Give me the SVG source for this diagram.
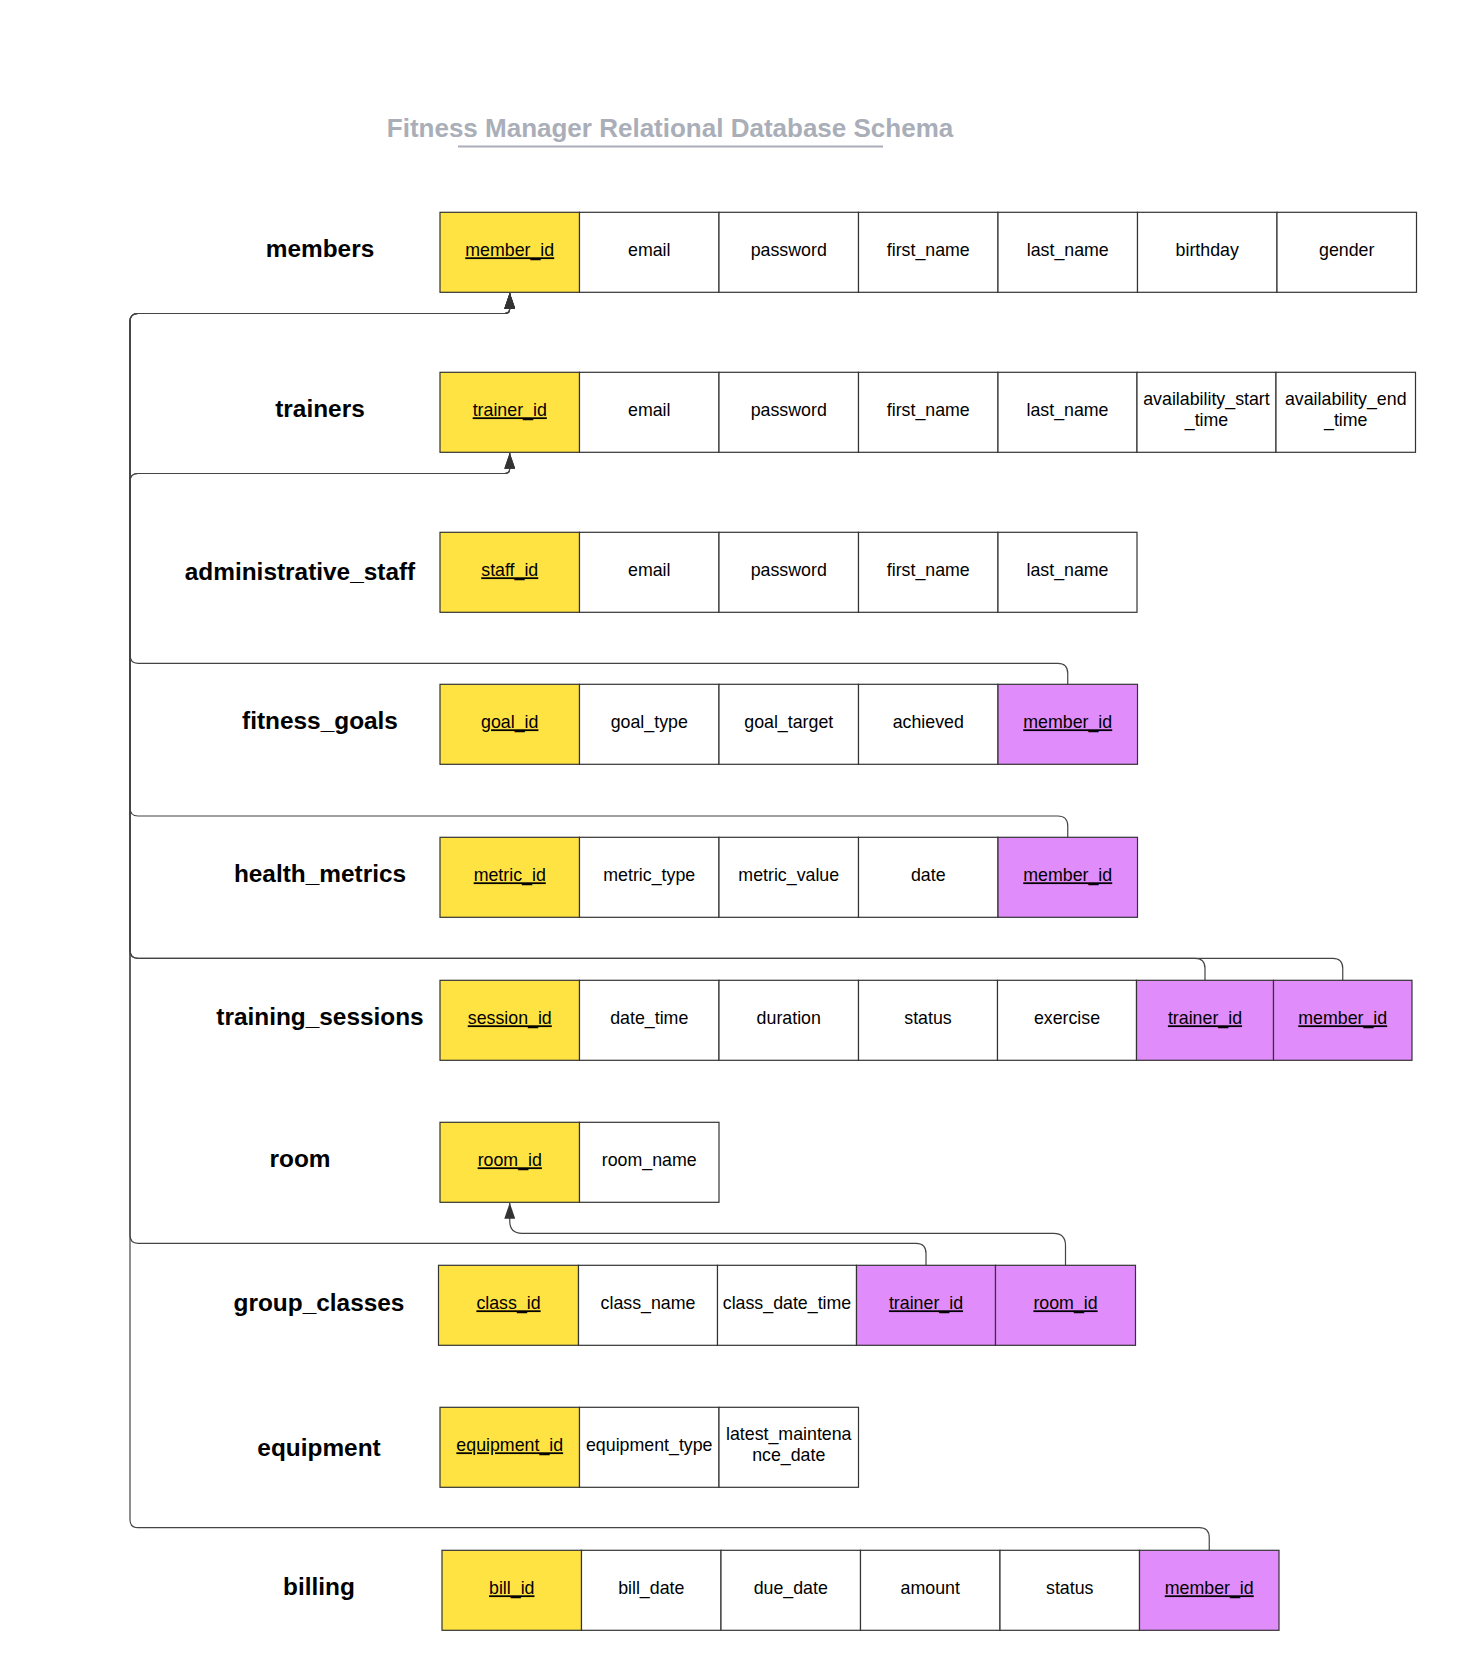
<svg xmlns="http://www.w3.org/2000/svg" width="1457" height="1670" viewBox="0 0 1457 1670">
  <style>
    .cell { fill: #ffffff; stroke: #333333; stroke-width: 1.2; }
    .pk { fill: #FFE342; }
    .fk { fill: #E08CFA; }
    .f { font-family: "Liberation Sans", Arial, sans-serif; font-size: 17.8px; fill: #000000; text-anchor: middle; }
    .u { text-decoration: underline; }
    .lbl { font-family: "Liberation Sans", Arial, sans-serif; font-weight: bold; font-size: 24.4px; fill: #000000; text-anchor: middle; }
    .title { font-family: "Liberation Sans", Arial, sans-serif; font-weight: bold; font-size: 26px; fill: #A9AEB8; text-anchor: middle; }
    .link { fill: none; stroke: #444444; stroke-width: 1.2; marker-end: url(#arrow); }
    .plain { fill: none; stroke: #444444; stroke-width: 1.2; }
  </style>
  <defs>
    <marker id="arrow" viewBox="0 0 16 11" refX="16" refY="5.5" markerWidth="16" markerHeight="11" markerUnits="userSpaceOnUse" orient="auto">
      <path d="M0,0 L16,5.5 L0,11 Z" fill="#333333"/>
    </marker>
  </defs>

  <rect x="0" y="0" width="1457" height="1670" fill="#ffffff"/>

  <!-- heading -->
  <g id="title">
    <text class="title" x="670" y="137">Fitness Manager Relational Database Schema</text>
    <line x1="458" y1="146.5" x2="883" y2="146.5" stroke="#A9AEB8" stroke-width="2"/>
  </g>

  <!-- foreign key links, all routed along the left trunk -->
  <g id="connectors">
    <!-- fitness_goals.member_id -> members.member_id -->
    <path class="link" d="M1067.75 684.3 V673.3 Q1067.75 663.3 1057.75 663.3 H138 Q130 663.3 130 655.3 V321.5 Q130 313.5 138 313.5 H504.75 Q509.75 313.5 509.75 308.5 V292.8"/>
    <!-- health_metrics.member_id -> members.member_id -->
    <path class="link" d="M1067.75 837.3 V826 Q1067.75 816 1057.75 816 H138 Q130 816 130 808 V321.5 Q130 313.5 138 313.5 H504.75 Q509.75 313.5 509.75 308.5 V292.8"/>
    <!-- training_sessions.member_id -> members.member_id -->
    <path class="link" d="M1342.75 980.3 V968.3 Q1342.75 958.3 1332.75 958.3 H138 Q130 958.3 130 950.3 V321.5 Q130 313.5 138 313.5 H504.75 Q509.75 313.5 509.75 308.5 V292.8"/>
    <!-- training_sessions.trainer_id -> trainers.trainer_id -->
    <path class="link" d="M1205 980.3 V968.3 Q1205 958.3 1195 958.3 H138 Q130 958.3 130 950.3 V481.5 Q130 473.5 138 473.5 H504.75 Q509.75 473.5 509.75 468.5 V452.8"/>
    <!-- group_classes.trainer_id -> trainers.trainer_id -->
    <path class="link" d="M926 1265.3 V1253.3 Q926 1243.3 916 1243.3 H138 Q130 1243.3 130 1235.3 V481.5 Q130 473.5 138 473.5 H504.75 Q509.75 473.5 509.75 468.5 V452.8"/>
    <!-- group_classes.room_id -> room.room_id -->
    <path class="link" d="M1065.5 1265.3 V1245.3 Q1065.5 1233.3 1053.5 1233.3 H522 Q509.75 1233.3 509.75 1221 V1202.8"/>
    <!-- billing.member_id -> members.member_id -->
    <path class="link" d="M1209.25 1550.3 V1537.7 Q1209.25 1527.7 1199.25 1527.7 H138 Q130 1527.7 130 1519.7 V321.5 Q130 313.5 138 313.5 H504.75 Q509.75 313.5 509.75 308.5 V292.8"/>
  </g>

  <g id="members">
    <text class="lbl" x="320" y="257">members</text>
    <rect class="cell pk" x="440" y="212.3" width="139.5" height="80"/>
    <rect class="cell" x="579.5" y="212.3" width="139.5" height="80"/>
    <rect class="cell" x="719" y="212.3" width="139.5" height="80"/>
    <rect class="cell" x="858.5" y="212.3" width="139.5" height="80"/>
    <rect class="cell" x="998" y="212.3" width="139.5" height="80"/>
    <rect class="cell" x="1137.5" y="212.3" width="139.5" height="80"/>
    <rect class="cell" x="1277" y="212.3" width="139.5" height="80"/>
    <text class="f u" x="509.75" y="256.3">member_id</text>
    <text class="f" x="649.25" y="256.3">email</text>
    <text class="f" x="788.75" y="256.3">password</text>
    <text class="f" x="928.25" y="256.3">first_name</text>
    <text class="f" x="1067.75" y="256.3">last_name</text>
    <text class="f" x="1207.25" y="256.3">birthday</text>
    <text class="f" x="1346.75" y="256.3">gender</text>
  </g>

  <g id="trainers">
    <text class="lbl" x="320" y="417">trainers</text>
    <rect class="cell pk" x="440" y="372.3" width="139.5" height="80"/>
    <rect class="cell" x="579.5" y="372.3" width="139.5" height="80"/>
    <rect class="cell" x="719" y="372.3" width="139.5" height="80"/>
    <rect class="cell" x="858.5" y="372.3" width="139.5" height="80"/>
    <rect class="cell" x="998" y="372.3" width="139" height="80"/>
    <rect class="cell" x="1137" y="372.3" width="139" height="80"/>
    <rect class="cell" x="1276" y="372.3" width="139.5" height="80"/>
    <text class="f u" x="509.75" y="416.3">trainer_id</text>
    <text class="f" x="649.25" y="416.3">email</text>
    <text class="f" x="788.75" y="416.3">password</text>
    <text class="f" x="928.25" y="416.3">first_name</text>
    <text class="f" x="1067.5" y="416.3">last_name</text>
    <text class="f" x="1206.5" y="405">availability_start</text>
    <text class="f" x="1206.5" y="426.3">_time</text>
    <text class="f" x="1345.75" y="405">availability_end</text>
    <text class="f" x="1345.75" y="426.3">_time</text>
  </g>

  <g id="administrative_staff">
    <text class="lbl" x="300" y="580">administrative_staff</text>
    <rect class="cell pk" x="440" y="532.3" width="139.5" height="80"/>
    <rect class="cell" x="579.5" y="532.3" width="139.5" height="80"/>
    <rect class="cell" x="719" y="532.3" width="139.5" height="80"/>
    <rect class="cell" x="858.5" y="532.3" width="139.5" height="80"/>
    <rect class="cell" x="998" y="532.3" width="139" height="80"/>
    <text class="f u" x="509.75" y="576.3">staff_id</text>
    <text class="f" x="649.25" y="576.3">email</text>
    <text class="f" x="788.75" y="576.3">password</text>
    <text class="f" x="928.25" y="576.3">first_name</text>
    <text class="f" x="1067.5" y="576.3">last_name</text>
  </g>

  <g id="fitness_goals">
    <text class="lbl" x="320" y="729.3">fitness_goals</text>
    <rect class="cell pk" x="440" y="684.3" width="139.5" height="80"/>
    <rect class="cell" x="579.5" y="684.3" width="139.5" height="80"/>
    <rect class="cell" x="719" y="684.3" width="139.5" height="80"/>
    <rect class="cell" x="858.5" y="684.3" width="139.5" height="80"/>
    <rect class="cell fk" x="998" y="684.3" width="139.5" height="80"/>
    <text class="f u" x="509.75" y="728.3">goal_id</text>
    <text class="f" x="649.25" y="728.3">goal_type</text>
    <text class="f" x="788.75" y="728.3">goal_target</text>
    <text class="f" x="928.25" y="728.3">achieved</text>
    <text class="f u" x="1067.75" y="728.3">member_id</text>
  </g>

  <g id="health_metrics">
    <text class="lbl" x="320" y="882.3">health_metrics</text>
    <rect class="cell pk" x="440" y="837.3" width="139.5" height="80"/>
    <rect class="cell" x="579.5" y="837.3" width="139.5" height="80"/>
    <rect class="cell" x="719" y="837.3" width="139.5" height="80"/>
    <rect class="cell" x="858.5" y="837.3" width="139.5" height="80"/>
    <rect class="cell fk" x="998" y="837.3" width="139.5" height="80"/>
    <text class="f u" x="509.75" y="881.3">metric_id</text>
    <text class="f" x="649.25" y="881.3">metric_type</text>
    <text class="f" x="788.75" y="881.3">metric_value</text>
    <text class="f" x="928.25" y="881.3">date</text>
    <text class="f u" x="1067.75" y="881.3">member_id</text>
  </g>

  <g id="training_sessions">
    <text class="lbl" x="320" y="1024.5">training_sessions</text>
    <rect class="cell pk" x="440" y="980.3" width="139.5" height="80"/>
    <rect class="cell" x="579.5" y="980.3" width="139.5" height="80"/>
    <rect class="cell" x="719" y="980.3" width="139.5" height="80"/>
    <rect class="cell" x="858.5" y="980.3" width="139" height="80"/>
    <rect class="cell" x="997.5" y="980.3" width="139" height="80"/>
    <rect class="cell fk" x="1136.5" y="980.3" width="137" height="80"/>
    <rect class="cell fk" x="1273.5" y="980.3" width="138.5" height="80"/>
    <text class="f u" x="509.75" y="1024.3">session_id</text>
    <text class="f" x="649.25" y="1024.3">date_time</text>
    <text class="f" x="788.75" y="1024.3">duration</text>
    <text class="f" x="928" y="1024.3">status</text>
    <text class="f" x="1067" y="1024.3">exercise</text>
    <text class="f u" x="1205" y="1024.3">trainer_id</text>
    <text class="f u" x="1342.75" y="1024.3">member_id</text>
  </g>

  <g id="room">
    <text class="lbl" x="300" y="1166.7">room</text>
    <rect class="cell pk" x="440" y="1122.3" width="139.5" height="80"/>
    <rect class="cell" x="579.5" y="1122.3" width="139.5" height="80"/>
    <text class="f u" x="509.75" y="1166.3">room_id</text>
    <text class="f" x="649.25" y="1166.3">room_name</text>
  </g>

  <g id="group_classes">
    <text class="lbl" x="319" y="1310.5">group_classes</text>
    <rect class="cell pk" x="438.5" y="1265.3" width="140" height="80"/>
    <rect class="cell" x="578.5" y="1265.3" width="139" height="80"/>
    <rect class="cell" x="717.5" y="1265.3" width="139" height="80"/>
    <rect class="cell fk" x="856.5" y="1265.3" width="139" height="80"/>
    <rect class="cell fk" x="995.5" y="1265.3" width="140" height="80"/>
    <text class="f u" x="508.5" y="1309.3">class_id</text>
    <text class="f" x="648" y="1309.3">class_name</text>
    <text class="f" x="787" y="1309.3">class_date_time</text>
    <text class="f u" x="926" y="1309.3">trainer_id</text>
    <text class="f u" x="1065.5" y="1309.3">room_id</text>
  </g>

  <g id="equipment">
    <text class="lbl" x="319" y="1456">equipment</text>
    <rect class="cell pk" x="440" y="1407.3" width="139.5" height="80"/>
    <rect class="cell" x="579.5" y="1407.3" width="139.5" height="80"/>
    <rect class="cell" x="719" y="1407.3" width="139.5" height="80"/>
    <text class="f u" x="509.75" y="1451.3">equipment_id</text>
    <text class="f" x="649.25" y="1451.3">equipment_type</text>
    <text class="f" x="788.75" y="1440">latest_maintena</text>
    <text class="f" x="788.75" y="1461.3">nce_date</text>
  </g>

  <g id="billing">
    <text class="lbl" x="319" y="1595">billing</text>
    <rect class="cell pk" x="442" y="1550.3" width="139.5" height="80"/>
    <rect class="cell" x="581.5" y="1550.3" width="139.5" height="80"/>
    <rect class="cell" x="721" y="1550.3" width="139.5" height="80"/>
    <rect class="cell" x="860.5" y="1550.3" width="139.5" height="80"/>
    <rect class="cell" x="1000" y="1550.3" width="139.5" height="80"/>
    <rect class="cell fk" x="1139.5" y="1550.3" width="139.5" height="80"/>
    <text class="f u" x="511.75" y="1594.3">bill_id</text>
    <text class="f" x="651.25" y="1594.3">bill_date</text>
    <text class="f" x="790.75" y="1594.3">due_date</text>
    <text class="f" x="930.25" y="1594.3">amount</text>
    <text class="f" x="1069.75" y="1594.3">status</text>
    <text class="f u" x="1209.25" y="1594.3">member_id</text>
  </g>
</svg>
